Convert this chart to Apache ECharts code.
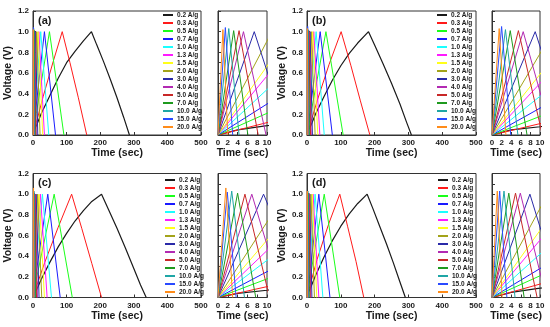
<!DOCTYPE html>
<html><head><meta charset="utf-8">
<script src="https://cdn.jsdelivr.net/npm/echarts@6/dist/echarts.min.js"></script>
<style>html,body{margin:0;padding:0;background:#fff}#c{width:550px;height:327px}</style>
</head><body><div id="c"></div>
<script>
const rates = ['0.2 A/g','0.3 A/g','0.5 A/g','0.7 A/g','1.0 A/g','1.3 A/g','1.5 A/g','2.0 A/g','3.0 A/g','4.0 A/g','5.0 A/g','7.0 A/g','10.0 A/g','15.0 A/g','20.0 A/g'];
const colors = ['#1a1a1a','#ff1a1a','#1aff1a','#1a1aff','#1affff','#ff1aff','#ffff1a','#a3a31a','#2a2aa8','#b22ab2','#c82828','#1e9a1e','#1fa6a6','#2a4aff','#ff8c1a'];
const panelLabels = ['(a)','(b)','(c)','(d)'];

// Time (s), Voltage (V) pairs for each rate, panel (a)
const panelA = [
  [[0,0],[4,0.05],[10,0.09],[25,0.21],[50,0.38],[75,0.55],[100,0.70],[125,0.81],[150,0.91],[174,1.0],[190,0.87],[210,0.71],[230,0.54],[250,0.36],[270,0.17],[287,0]],
  [[0,0],[10,0.12],[30,0.37],[60,0.71],[87,1.0],[110,0.70],[135,0.36],[160,0]],
  [[0,0],[10,0.21],[49,1.0],[92,0]],
  [[0,0],[10,0.30],[34,1.0],[67,0]],
  [[0,0],[10,0.44],[23,1.0],[47,0]],
  [[0,0],[17.5,1.0],[34,0]],
  [[0,0],[15,1.0],[29,0]],
  [[0,0],[11,1.0],[21,0]],
  [[0,0],[7.4,1.0],[14.2,0]],
  [[0,0],[5.2,1.0],[9.8,0]],
  [[0,0],[4.3,1.01],[8.2,0]],
  [[0,0],[3.2,1.01],[6.1,0]],
  [[0,0],[2.2,1.03],[4.3,0]],
  [[0,0],[1.5,1.04],[3.0,0]],
  [[0,0],[1.0,1.02],[2.0,0]]
];
const panelB = [
  [[0,0],[4,0.05],[10,0.08],[25,0.20],[50,0.37],[75,0.53],[100,0.67],[125,0.79],[150,0.89],[182,1.0],[200,0.87],[225,0.69],[250,0.50],[275,0.30],[295,0.12],[309,0]],
  [[0,0],[10,0.11],[30,0.33],[65,0.68],[101,1.0],[130,0.67],[158,0.33],[186,0]],
  [[0,0],[10,0.18],[56,1.0],[107,0]],
  [[0,0],[10,0.26],[39,1.0],[75,0]],
  [[0,0],[10,0.375],[27,1.0],[51,0]],
  [[0,0],[20,1.0],[38,0]],
  [[0,0],[17,1.0],[32,0]],
  [[0,0],[12.7,1.0],[24,0]],
  [[0,0],[9.0,1.0],[16,0]],
  [[0,0],[6.5,1.0],[12.5,0]],
  [[0,0],[5.5,1.01],[10.5,0]],
  [[0,0],[3.8,1.01],[7.3,0]],
  [[0,0],[2.8,1.02],[5.4,0]],
  [[0,0],[2.0,1.05],[3.9,0]],
  [[0,0],[1.5,1.03],[2.9,0]]
];
const panelC = [
  [[0,0],[4,0.04],[10,0.07],[25,0.18],[50,0.34],[75,0.49],[100,0.62],[125,0.74],[150,0.84],[175,0.93],[204,1.0],[225,0.85],[250,0.67],[275,0.48],[300,0.28],[320,0.12],[337,0]],
  [[0,0],[10,0.105],[35,0.34],[75,0.68],[115,1.0],[145,0.67],[175,0.33],[204,0]],
  [[0,0],[10,0.18],[63,1.0],[117,0]],
  [[0,0],[10,0.25],[44,1.0],[81,0]],
  [[0,0],[10,0.36],[28,1.0],[55,0]],
  [[0,0],[22,1.0],[42,0]],
  [[0,0],[18,1.0],[34,0]],
  [[0,0],[13.7,1.0],[26,0]],
  [[0,0],[9.3,1.0],[18,0]],
  [[0,0],[6.9,1.0],[13.2,0]],
  [[0,0],[5.5,1.0],[10.5,0]],
  [[0,0],[4.0,1.01],[7.7,0]],
  [[0,0],[2.8,1.03],[5.4,0]],
  [[0,0],[1.9,1.02],[3.7,0]],
  [[0,0],[1.6,1.06],[3.0,0]]
];
const panelD = [
  [[0,0],[4,0.05],[10,0.09],[25,0.21],[50,0.39],[75,0.55],[100,0.69],[125,0.81],[150,0.91],[178,1.0],[195,0.86],[215,0.69],[235,0.52],[255,0.34],[275,0.15],[291,0]],
  [[0,0],[10,0.13],[30,0.37],[65,0.72],[97,1.0],[120,0.69],[145,0.35],[168,0]],
  [[0,0],[10,0.21],[51,1.0],[97,0]],
  [[0,0],[10,0.28],[35,1.0],[68,0]],
  [[0,0],[10,0.42],[24,1.0],[47,0]],
  [[0,0],[18,1.0],[35,0]],
  [[0,0],[15.4,1.0],[29,0]],
  [[0,0],[11.6,1.0],[22,0]],
  [[0,0],[7.9,1.0],[14.5,0]],
  [[0,0],[5.9,1.01],[11.3,0]],
  [[0,0],[4.9,1.01],[9.4,0]],
  [[0,0],[3.5,1.01],[6.7,0]],
  [[0,0],[2.5,1.03],[4.8,0]],
  [[0,0],[1.6,1.03],[3.1,0]],
  [[0,0],[1.1,1.03],[2.1,0]]
];

const FONT = "'Liberation Sans',Arial,sans-serif";
const TXT = '#1a1a1a';
const FRAME = '#333';

const layout = [
  {data: panelA, main:{left:33, top:11, width:168, height:124}, side:{left:218, top:11, width:49, height:124}, legend:{left:163, top:11}, label:{left:38, top:15}},
  {data: panelB, main:{left:307, top:11, width:169, height:124}, side:{left:492, top:11, width:48, height:124}, legend:{left:437, top:11}, label:{left:312, top:15}},
  {data: panelC, main:{left:33, top:173.5, width:168, height:124}, side:{left:218, top:173.5, width:49, height:124}, legend:{left:165, top:176}, label:{left:38, top:177}},
  {data: panelD, main:{left:307, top:173.5, width:169, height:124}, side:{left:492, top:173.5, width:48, height:124}, legend:{left:438, top:176}, label:{left:312, top:177}}
];

const grid = [], xAxis = [], yAxis = [], series = [], legend = [], title = [];
const lblStyle = {color: TXT, fontSize: 8, fontWeight: 'bold', fontFamily: FONT};
const nameStyle = {color: TXT, fontSize: 10.5, fontWeight: 'bold', fontFamily: FONT};

layout.forEach((p, i) => {
  const gm = 2*i, gs = 2*i+1;
  grid.push(Object.assign({show:true, borderColor:FRAME, borderWidth:1, backgroundColor:'#fff', containLabel:false}, p.main));
  grid.push(Object.assign({show:true, borderColor:FRAME, borderWidth:1, backgroundColor:'#fff', containLabel:false}, p.side));
  const axisCommon = {
    type:'value',
    axisLine:{show:true, onZero:false, lineStyle:{color:FRAME, width:1}},
    axisTick:{show:true, inside:true, length:3, lineStyle:{color:FRAME}},
    splitLine:{show:false},
    nameTextStyle: nameStyle
  };
  xAxis.push(Object.assign({}, axisCommon, {gridIndex:gm, min:0, max:500, interval:100,
    axisLabel:Object.assign({margin:4, showMinLabel:true, showMaxLabel:true}, lblStyle),
    name:'Time (sec)', nameLocation:'middle', nameGap:13}));
  xAxis.push(Object.assign({}, axisCommon, {gridIndex:gs, min:0, max:10, interval:2,
    axisLabel:Object.assign({margin:4, showMinLabel:true, showMaxLabel:true}, lblStyle),
    name:'Time (sec)', nameLocation:'middle', nameGap:13}));
  yAxis.push(Object.assign({}, axisCommon, {gridIndex:gm, min:0, max:1.2, interval:0.2,
    axisLabel:Object.assign({margin:4, formatter:v => v.toFixed(1)}, lblStyle),
    name:'Voltage (V)', nameLocation:'middle', nameGap:12}));
  yAxis.push(Object.assign({}, axisCommon, {gridIndex:gs, min:0, max:1.2, interval:0.1,
    axisLabel:{show:false}}));
  p.data.forEach((d, k) => {
    [gm, gs].forEach(g => {
      series.push({
        type:'line', name:rates[k], xAxisIndex:g, yAxisIndex:g, data:d,
        showSymbol:false, symbol:'none', clip:true, animation:false, silent:true,
        lineStyle:{color:colors[k], width: k === 0 ? 1.2 : 1},
        itemStyle:{color:colors[k]}
      });
    });
  });
  legend.push({
    orient:'vertical', left:p.legend.left, top:p.legend.top, data:rates,
    icon:'rect', itemWidth:10, itemHeight:2, itemGap:0, selectedMode:false, padding:0,
    textStyle:{fontSize:6.5, lineHeight:8, fontWeight:'bold', color:TXT, fontFamily:FONT, padding:[0,0,0,-1]}
  });
  title.push({text:panelLabels[i], left:p.label.left, top:p.label.top, padding:0,
    textStyle:{fontSize:11, fontWeight:'bold', color:TXT, fontFamily:FONT}});
});

const chart = echarts.init(document.getElementById('c'), null, {renderer:'canvas'});
chart.setOption({backgroundColor:'#fff', animation:false, grid, xAxis, yAxis, series, legend, title});
</script>
</body></html>
